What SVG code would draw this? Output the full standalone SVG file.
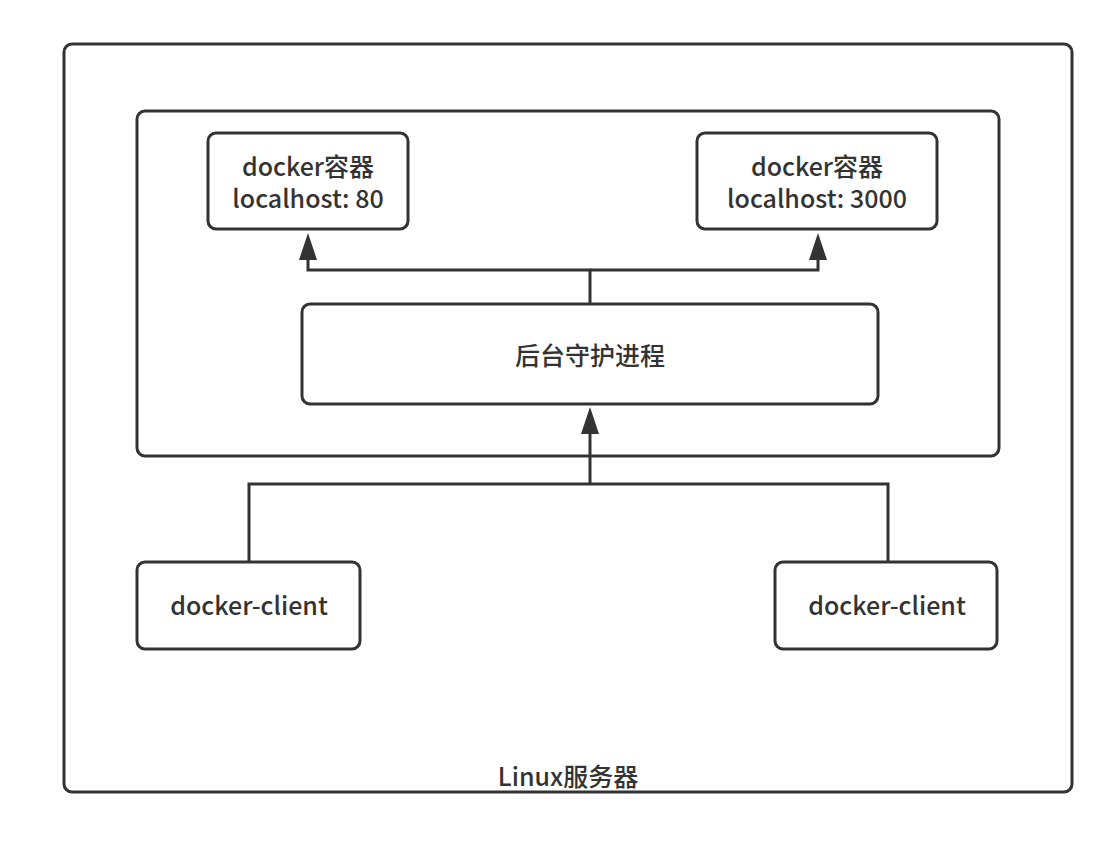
<svg xmlns="http://www.w3.org/2000/svg" width="1118" height="862" viewBox="0 0 1118 862">
<defs>
<style>
.box{fill:#fff;stroke:#333;stroke-width:3}
.t{font-family:"Microsoft YaHei","Noto Sans CJK SC","Noto Sans",sans-serif;font-size:25px;font-weight:500;fill:#333;text-anchor:middle}
.c{fill:none;stroke:#333;stroke-width:3}
</style>
</defs>
<rect width="1118" height="862" fill="#fff"/>
<g id="linux">
<rect class="box" x="64" y="44" width="1008" height="748" rx="8"/>
<text class="t" x="568" y="786">Linux服务器</text>
</g>
<g id="host">
<rect class="box" x="137" y="111" width="862" height="345" rx="8"/>
</g>
<g id="c80">
<rect class="box" x="208" y="133" width="200" height="96" rx="8"/>
<text class="t"><tspan x="308" y="176">docker容器</tspan><tspan x="308" y="208">localhost: 80</tspan></text>
</g>
<g id="c3000">
<rect class="box" x="697" y="133" width="240" height="96" rx="8"/>
<text class="t"><tspan x="817" y="176">docker容器</tspan><tspan x="817" y="208">localhost: 3000</tspan></text>
</g>
<g id="daemon">
<rect class="box" x="302" y="304" width="576" height="100" rx="8"/>
<text class="t" x="590" y="365">后台守护进程</text>
</g>
<g id="client1">
<rect class="box" x="137" y="562" width="223" height="87" rx="8"/>
<text class="t" x="249" y="615">docker-client</text>
</g>
<g id="client2">
<rect class="box" x="775" y="562" width="222" height="87" rx="8"/>
<text class="t" x="887" y="615">docker-client</text>
</g>
<g id="connectors">
<path class="c" d="M590,304 V270 H308 V260"/>
<path class="c" d="M590,270 H818 V260"/>
<path class="c" d="M249,562 V484 H888 V562"/>
<path class="c" d="M590,484 V434"/>
<path d="M308,233 L299,260 L317,260 Z" fill="#333"/>
<path d="M818,233 L809,260 L827,260 Z" fill="#333"/>
<path d="M590,407 L581,434 L599,434 Z" fill="#333"/>
</g>
</svg>
